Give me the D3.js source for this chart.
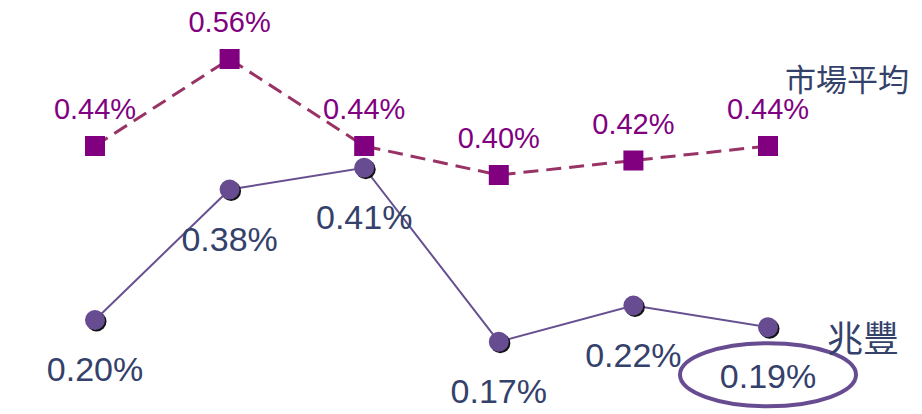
<!DOCTYPE html>
<html>
<head>
<meta charset="utf-8">
<script src="https://cdn.jsdelivr.net/npm/d3@7"></script>
<style>
html,body{margin:0;padding:0;background:#fff;}
svg{display:block;}
</style>
</head>
<body>
<svg id="chart" width="922" height="414"></svg>
<script>
const categories = ["P1","P2","P3","P4","P5","P6"];
const marketValues = [0.44, 0.56, 0.44, 0.40, 0.42, 0.44];
const megaValues = [0.20, 0.38, 0.41, 0.17, 0.22, 0.19];
const seriesNames = ["市場平均", "兆豐"];
const highlightIndex = 5;

const svg = d3.select("#chart");
const x = d3.scalePoint().domain(categories).range([95, 768]);
const y = d3.scaleLinear().domain([0.1, 0.6]).range([392.5, 30]);
const fmt = v => v.toFixed(2) + "%";
const latin = "'Liberation Sans', Arial, sans-serif";
const cjk = "'Noto Sans CJK TC', 'Noto Sans CJK SC', sans-serif";
const navy = "#34416a";

const line = d3.line().x((d,i)=>x(categories[i])).y(d=>y(d));

// market dashed line
svg.append("path").datum(marketValues)
  .attr("d", line).attr("fill","none")
  .attr("stroke","#993366").attr("stroke-width",3)
  .attr("stroke-dasharray","15,8");

// mega solid line
svg.append("path").datum(megaValues)
  .attr("d", line).attr("fill","none")
  .attr("stroke","#66508f").attr("stroke-width",2);

// market squares
svg.selectAll("rect.mk").data(marketValues).enter().append("rect")
  .attr("class","mk")
  .attr("x",(d,i)=>x(categories[i])-10).attr("y",d=>y(d)-10)
  .attr("width",20).attr("height",20).attr("fill","#800080");

// mega circles with shadow
svg.selectAll("circle.sh").data(megaValues).enter().append("circle")
  .attr("class","sh")
  .attr("cx",(d,i)=>x(categories[i])+1.5).attr("cy",d=>y(d)+1.5)
  .attr("r",10).attr("fill","#111");
svg.selectAll("circle.mg").data(megaValues).enter().append("circle")
  .attr("class","mg")
  .attr("cx",(d,i)=>x(categories[i])).attr("cy",d=>y(d))
  .attr("r",10).attr("fill","#674c91");

// market labels
svg.selectAll("text.ml").data(marketValues).enter().append("text")
  .attr("class","ml")
  .attr("x",(d,i)=>x(categories[i])).attr("y",d=>y(d)-27)
  .attr("text-anchor","middle").attr("font-family",latin)
  .attr("font-size",29).attr("fill","#800080")
  .text(fmt);

// mega labels
svg.selectAll("text.gl").data(megaValues).enter().append("text")
  .attr("class","gl")
  .attr("x",(d,i)=>x(categories[i])).attr("y",d=>y(d)+61)
  .attr("text-anchor","middle").attr("font-family",latin)
  .attr("font-size",34).attr("fill",navy)
  .text(fmt);

// highlight ellipse
svg.append("ellipse")
  .attr("cx", x(categories[highlightIndex]))
  .attr("cy", y(megaValues[highlightIndex]) + 47.5)
  .attr("rx", 88).attr("ry", 31.5)
  .attr("fill","none").attr("stroke","#674c91").attr("stroke-width",4);

// series names
svg.append("text").attr("x",785).attr("y",91)
  .attr("font-family",cjk).attr("font-size",31).attr("fill",navy)
  .text(seriesNames[0]);
svg.append("text").attr("x",827).attr("y",352)
  .attr("font-family",cjk).attr("font-size",36).attr("fill",navy)
  .text(seriesNames[1]);
</script>
</body>
</html>
